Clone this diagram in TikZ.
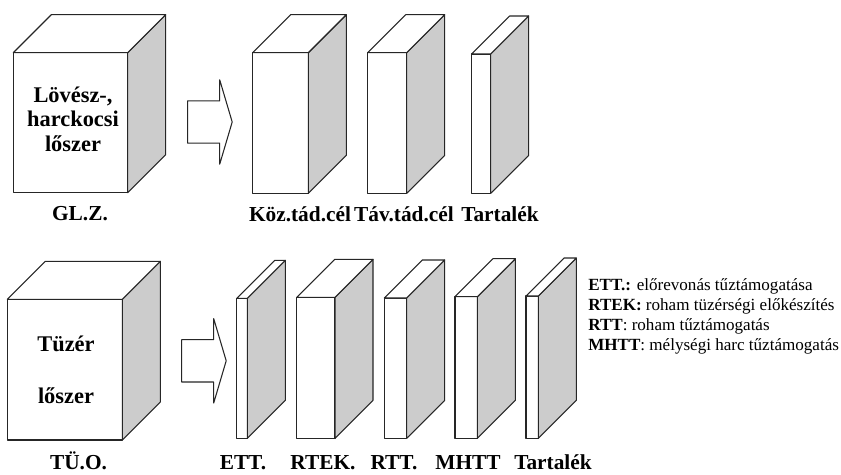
\documentclass[tikz,border=0pt]{standalone}
\usepackage{fontspec}
\setmainfont{Liberation Serif}
\usetikzlibrary{positioning}

% one 3D slab: name, left, top, right, bottom (pixel grid, y down)
\newcommand{\lada}[5]{%
  \node[elolap, minimum width={(#4-#2)*0.75pt}, minimum height={(#5-#3)*0.75pt}]
    (#1) at ({(#2+#4)/2},{(#3+#5)/2}) {};
  \draw[oldallap] (#1.north east) -- ++(38,-38) -- ([shift={(38,-38)}]#1.south east)
    -- (#1.south east) -- cycle;
  \draw[tetolap] (#1.north west) -- ++(38,-38) -- ([shift={(38,-38)}]#1.north east)
    -- (#1.north east) -- cycle;
}
% block arrow: tail x, centre y
\newcommand{\tomnyil}[2]{%
  \draw[nyil] (#1,#2) ++(0,-21.2) -- ++(32,0) -- ++(0,-21) -- ++(12.5,42.2)
    -- ++(-12.5,42.2) -- ++(0,-21) -- ++(-32,0) -- cycle;
}

\begin{document}
\begin{tikzpicture}[
			x=0.75pt, y=-0.75pt,
			vonal/.style={draw=black!85, line width=0.8pt, line join=round},
			elolap/.style={vonal, fill=white, inner sep=0pt, outer sep=0pt},
			oldallap/.style={vonal, fill=gray!40},
			tetolap/.style={vonal, fill=white},
			nyil/.style={vonal, fill=white},
			kocka/.style={font=\fontsize{16.8}{19}\selectfont\bfseries, anchor=base, inner sep=0pt},
			cimke/.style={font=\fontsize{16}{19}\selectfont\bfseries, anchor=base, inner sep=0pt},
			jelmag/.style={font=\fontsize{12.8}{15}\selectfont, anchor=base west, inner sep=0pt},
			]
			\useasboundingbox (0,0) rectangle (841,474);
			
			%% ── Upper row: infantry / tank ammunition ───────────────────────────────────
			\lada{glz}{13.3}{52.7}{127.7}{192.7}
			\node[kocka] (glz1) at (73,102.7) {Lövész-,};
			\node[kocka] (glz2) at (73,126.7) {harckocsi};
			\node[kocka] (glz3) at (73,151.7) {lőszer};
			
			\tomnyil{187.7}{122}
			
			\lada{koz}{252.7}{52.7}{308.3}{193.3}
			\lada{tav}{367.7}{52.7}{406.7}{193.3}
			\lada{tart1}{471.7}{54}{490.7}{193.3}
			
			\node[cimke] (lglz)   at (80,220)  {GL.Z.};
			\node[cimke] (lkoz)   at (300,221) {Köz.tád.cél};
			\node[cimke] (ltav)   at (404,221) {Táv.tád.cél};
			\node[cimke] (ltart1) at (500,221) {Tartalék};
			
			%% ── Lower row: artillery ammunition ─────────────────────────────────────────
			\lada{tuo}{7.3}{299.3}{122.3}{440}
			\node[kocka] (tuo1) at (66,351.7) {Tüzér};
			\node[kocka] (tuo2) at (66,403)   {lőszer};
			
			\tomnyil{181.7}{360.8}
			
			\lada{ett}{236.7}{298.3}{247.3}{438.3}
			\lada{rtek}{296.7}{297.3}{335}{438.3}
			\lada{rtt}{384.3}{298}{406.7}{438.3}
			\lada{mhtt}{455}{296.7}{477.3}{438.3}
			\lada{tart2}{526}{296}{538.3}{438.3}
			
			\node[cimke] (ltuo)   at (78.5,469) {TÜ.O.};
			\node[cimke] (lett)   at (243,469)  {ETT.};
			\node[cimke] (lrtek)  at (323,469)  {RTEK.};
			\node[cimke] (lrtt)   at (394,469)  {RTT.};
			\node[cimke] (lmhtt)  at (468,469)  {MHTT};
			\node[cimke] (ltart2) at (553,469)  {Tartalék};
			
			%% ── Legend ──────────────────────────────────────────────────────────────────
			\node[jelmag] (leg1) at (588,290)   {\textbf{ETT.:} előrevonás tűztámogatása};
			\node[jelmag] (leg2) at (588,310.5) {\textbf{RTEK:} roham tüzérségi előkészítés};
			\node[jelmag] (leg3) at (588,330.5) {\textbf{RTT}: roham tűztámogatás};
			\node[jelmag] (leg4) at (588,350)   {\textbf{MHTT}: mélységi harc tűztámogatás};
			
		\end{tikzpicture}
\end{document}
